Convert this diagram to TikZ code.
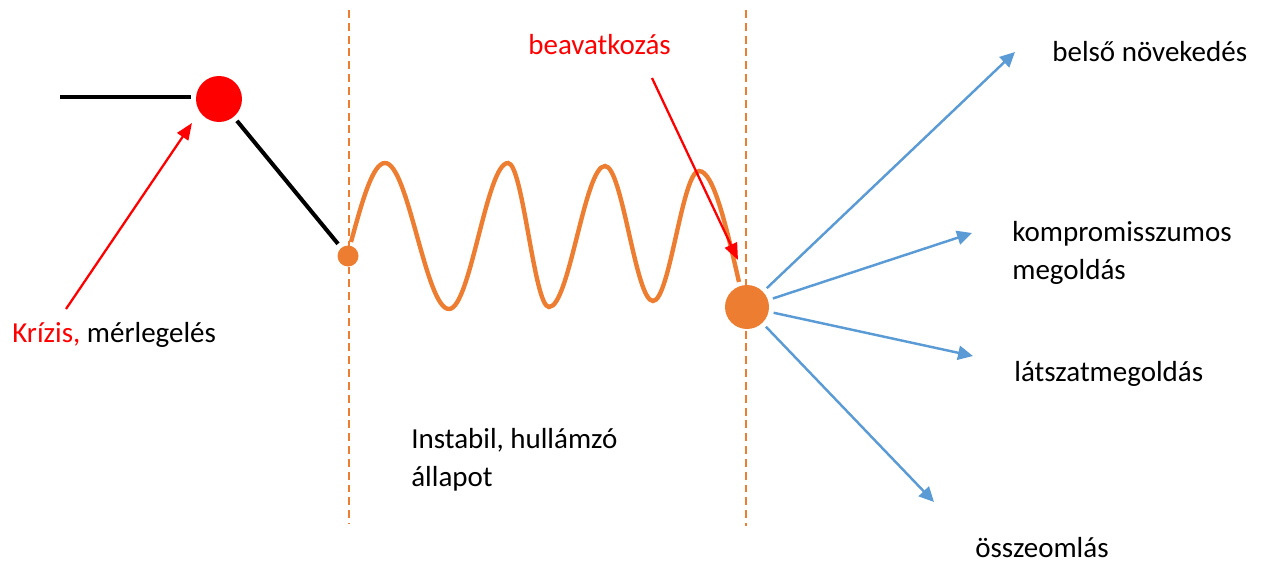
\documentclass[tikz,border=0pt]{standalone}
\usepackage{fontspec}
\setmainfont{Carlito}
\usetikzlibrary{arrows.meta}
\definecolor{orng}{HTML}{ED7D31}
\definecolor{blu}{HTML}{5B9BD5}
\definecolor{rd}{HTML}{FF0000}
\begin{document}
\begin{tikzpicture}[x=0.02cm,y=-0.02cm,
  lbl/.style={font=\fontsize{16.5pt}{21.9pt}\selectfont, inner sep=0pt, anchor=base west, align=left},
  dot/.style={circle, fill=#1, inner sep=0pt, outer sep=0pt},
  guide/.style={draw=orng, line width=1.1pt, dash pattern=on 4.5pt off 2.8pt},
  blarrow/.style={draw=blu, line width=1.4pt, shorten <=3pt, -{Triangle[length=8.5pt,width=8pt]}},
  rdarrow/.style={draw=rd, line width=1.3pt, -{Triangle[length=9.5pt,width=7.5pt]}},
  blk/.style={draw=black, line width=2.3pt},
  wave/.style={draw=orng, line width=2.5pt}]
\useasboundingbox (0,0) rectangle (1268,563);

% guide lines
\coordinate (g1t) at (349,10);
\coordinate (g1b) at (349,524);
\coordinate (g2t) at (746,10);
\coordinate (g2b) at (746,526);
\draw[guide] (g1t) -- (g1b);
\draw[guide] (g2t) -- (g2b);

% dots
\node[dot=rd, minimum size=0.92cm] (crisis) at (219,99) {};
\node[dot=orng, minimum size=0.42cm] (start) at (348,256) {};
\node[dot=orng, minimum size=0.88cm] (interv) at (747,307) {};

% black lines
\coordinate (lineL) at (60,97);
\draw[blk, shorten >=3pt] (lineL) -- (lineL -| crisis.west);
\draw[blk, shorten <=3pt, shorten >=3pt] (crisis) -- (start);

% wave
\coordinate (w0) at (351,242);
\coordinate (w9) at (739,282);
\draw[wave] (w0) sin (385,163) cos (417,236) sin (449,309) cos (478.5,236) sin (508,163)
  cos (528.5,235) sin (549,307) cos (577,236.5) sin (605,166) cos (629,233.5) sin (653,301)
  cos (676,236) sin (699,171) cos (w9);

% texts
\node[lbl] (krizis) at (12,343) {\textcolor{rd}{Krízis,} mérlegelés};
\node[lbl] (instab) at (411,487) {Instabil, hullámzó\\állapot};
\node[lbl, text=rd] (beav) at (528,55) {beavatkozás};
\node[lbl] (belso) at (1052,62) {belső növekedés};
\node[lbl] (kompr) at (1012,280) {kompromisszumos\\megoldás};
\node[lbl] (latsz) at (1014,382) {látszatmegoldás};
\node[lbl] (ossze) at (975,558) {összeomlás};

% red arrows
\coordinate (k0) at (66,309);
\coordinate (k1) at (192,123);
\draw[rdarrow] (k0) -- (k1);
\coordinate (b0) at (652,78);
\coordinate (b1) at (738,260);
\draw[rdarrow] (b0) -- (b1);

% blue arrows
\coordinate (t1) at (1015,52);
\coordinate (t2) at (972,233);
\coordinate (t3) at (973,356);
\coordinate (t4) at (934,502);
\draw[blarrow] (interv) -- (t1);
\draw[blarrow] (interv) -- (t2);
\draw[blarrow] (interv) -- (t3);
\draw[blarrow] (interv) -- (t4);
\end{tikzpicture}
\end{document}
